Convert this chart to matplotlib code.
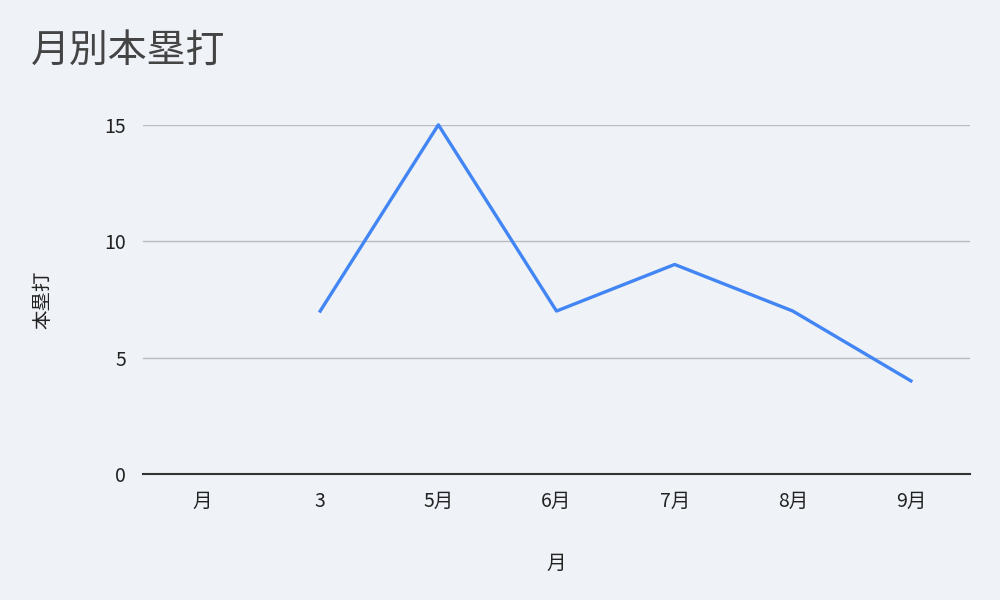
import matplotlib
matplotlib.use("Agg")
import matplotlib.pyplot as plt
import numpy as np

plt.rcParams['font.family'] = ['Noto Sans CJK JP', 'DejaVu Sans']

months = ["月", "3", "5月", "6月", "7月", "8月", "9月"]
homeruns = [np.nan, 7, 15, 7, 9, 7, 4]

bg = "#eff2f7"
fig = plt.figure(figsize=(10, 6), dpi=100, facecolor=bg)
ax = fig.add_axes([0.143, 0.21, 0.827, 0.582], facecolor=bg)

x = np.arange(len(months))
ax.plot(x, homeruns, color="#4285f4", linewidth=2.4, clip_on=False)

ax.set_xlim(-0.5, len(months) - 0.5)
ax.set_ylim(0, 15)
ax.set_yticks([0, 5, 10, 15])
ax.set_xticks(x)
ax.set_xticklabels(months)
ax.grid(axis="y", color="#b8bcc2", linewidth=1)
ax.set_axisbelow(True)
for s in ["top", "right", "left"]:
    ax.spines[s].set_visible(False)
ax.spines["bottom"].set_color("#333333")
ax.spines["bottom"].set_linewidth(1.5)
ax.tick_params(axis="both", length=0, labelsize=14, colors="#222222")
ax.tick_params(axis="x", pad=12)
ax.tick_params(axis="y", pad=12)

ax.set_xlabel("月", fontsize=14, color="#222222", labelpad=30)
ax.set_ylabel("本塁打", fontsize=14, color="#222222", labelpad=37)

fig.text(0.031, 0.915, "月別本塁打", fontsize=28, color="#444444", va="center", ha="left")

fig.savefig("out.png", dpi=100, facecolor=bg)
